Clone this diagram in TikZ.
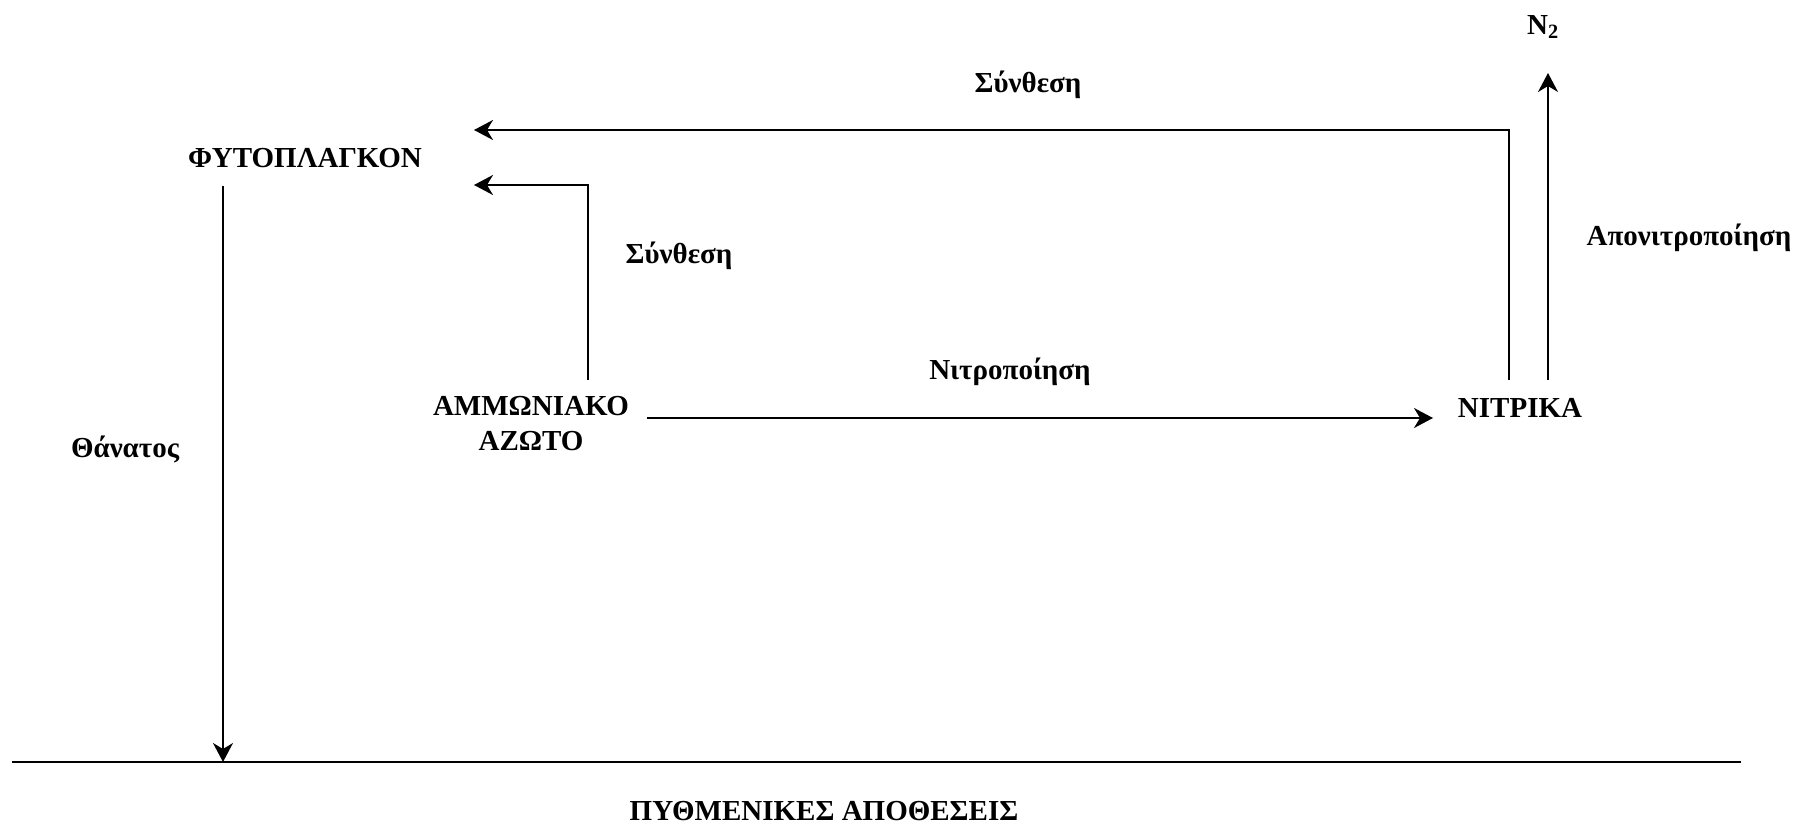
\documentclass[tikz,border=0pt]{standalone}
\usepackage{fontspec}
\setmainfont{Liberation Serif}
\usetikzlibrary{arrows.meta}
\begin{document}
\begin{tikzpicture}[x=1pt,y=-1pt,
  lbl/.style={font=\fontsize{29}{35}\selectfont\bfseries, inner sep=0pt, align=center},
  conn/.style={line width=2pt, -{Stealth[length=19pt,width=20pt,inset=6pt]}},
  plainline/.style={line width=2.5pt}]
\useasboundingbox (0,0) rectangle (1805,827);
% labels
\node[lbl] (n2) at (1543,27) {N\textsubscript{2}};
\node[lbl] (syn1) at (1028,85) {Σύνθεση};
\node[lbl] (fyto) at (305,158) {ΦΥΤΟΠΛΑΓΚΟΝ};
\node[lbl] (syn2) at (679,256) {Σύνθεση};
\node[lbl] (apon) at (1689,238) {Απονιτροποίηση};
\node[lbl] (nitrop) at (1010,372) {Νιτροποίηση};
\node[lbl] (amm) at (531,424) {ΑΜΜΩΝΙΑΚΟ\\ΑΖΩΤΟ};
\node[lbl] (nitr) at (1520,408) {ΝΙΤΡΙΚΑ};
\node[lbl] (than) at (125,449) {Θάνατος};
\node[lbl] (pyth) at (824,811) {ΠΥΘΜΕΝΙΚΕΣ ΑΠΟΘΕΣΕΙΣ};
% connector ends
\coordinate (fytoA) at (474,130);
\coordinate (fytoB) at (474,185);
\coordinate (fytoS) at (223,186);
\coordinate (ammT) at (588,380);
\coordinate (ammR) at (647,418);
\coordinate (nitrL) at (1433,418);
\coordinate (nitrT) at (1509,380);
\coordinate (nitrT2) at (1548,380);
\coordinate (n2B) at (1548,73);
\coordinate (bedL) at (12,762);
\coordinate (bedR) at (1741,762);
\coordinate (bedD) at (223,762);
% connectors
\draw[conn] (nitrT) |- (fytoA);
\draw[conn] (ammT) |- (fytoB);
\draw[conn] (nitrT2) -- (n2B);
\draw[conn] (ammR) -- (nitrL);
\draw[conn] (fytoS) -- (bedD);
\draw[plainline] (bedL) -- (bedR);
\end{tikzpicture}
\end{document}
